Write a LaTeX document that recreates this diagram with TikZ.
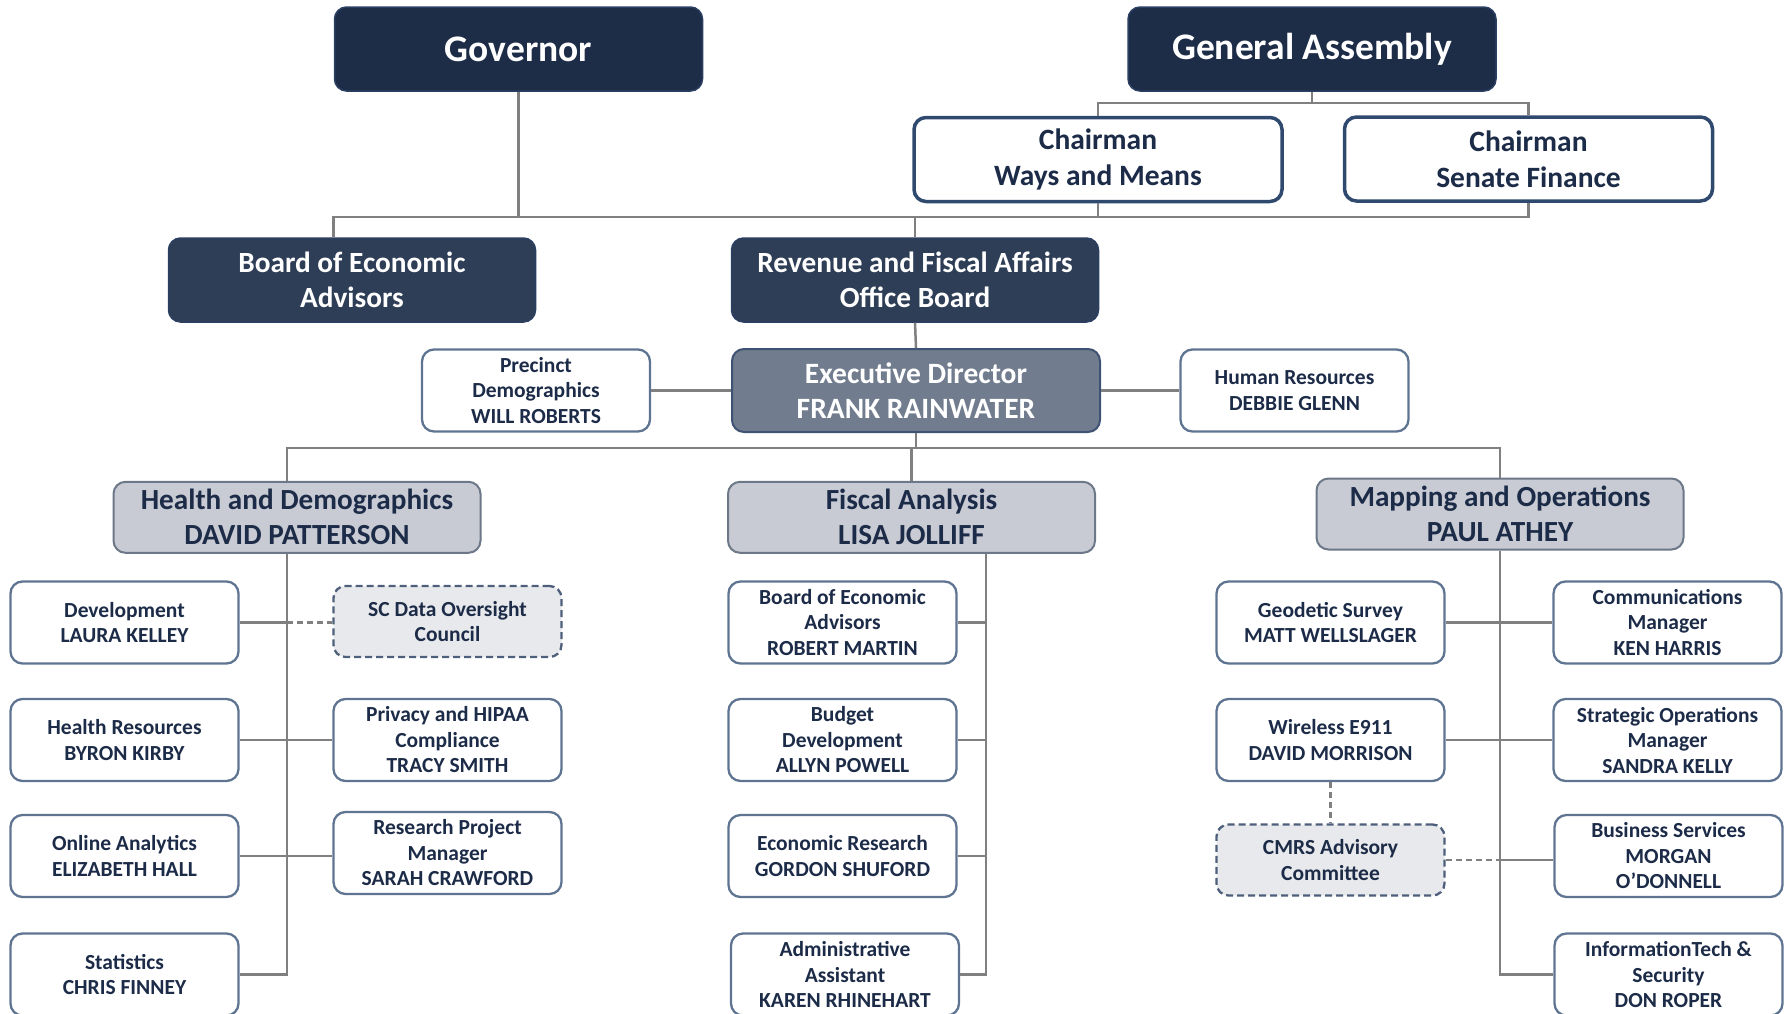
\documentclass[tikz,border=0pt]{standalone}
\usepackage{fontspec}
\setmainfont{Carlito}

\definecolor{topfill}{HTML}{1E2D47}
\definecolor{topedge}{HTML}{2B3F63}
\definecolor{boardfill}{HTML}{2E3E56}
\definecolor{execfill}{HTML}{717D8E}
\definecolor{execedge}{HTML}{3E5273}
\definecolor{headfill}{HTML}{C8CBD3}
\definecolor{headedge}{HTML}{6C7888}
\definecolor{staffedge}{HTML}{5E7491}
\definecolor{chairedge}{HTML}{2F4A6E}
\definecolor{dashfill}{HTML}{E8E9EC}
\definecolor{dashedge}{HTML}{4D5F7B}
\definecolor{inktext}{HTML}{1C2B47}
\definecolor{linegray}{HTML}{808080}

\tikzset{
  topbox/.style={draw=topedge, fill=topfill, line width=1.5pt, rounded corners=12pt, text=white, align=center, font=\fontsize{37.5}{44}\selectfont\bfseries, minimum width=368pt, minimum height=84pt},
  chairbox/.style={draw=chairedge, fill=white, line width=3.5pt, rounded corners=12pt, text=inktext, align=center, font=\fontsize{29.5}{36}\selectfont\bfseries, minimum width=368pt, minimum height=84pt},
  boardbox/.style={draw=topedge, fill=boardfill, line width=1.5pt, rounded corners=12pt, text=white, align=center, font=\fontsize{29.3}{35}\selectfont\bfseries, minimum width=367pt, minimum height=84pt},
  execbox/.style={draw=execedge, fill=execfill, line width=2pt, rounded corners=12pt, text=white, align=center, font=\fontsize{29.5}{35}\selectfont\bfseries, minimum width=368pt, minimum height=83pt},
  headbox/.style={draw=headedge, fill=headfill, line width=2pt, rounded corners=12pt, text=inktext, align=center, font=\fontsize{29.2}{35}\selectfont\bfseries, minimum width=367pt, minimum height=71pt},
  staffbox/.style={draw=staffedge, fill=white, line width=2.3pt, rounded corners=12pt, text=inktext, align=center, font=\fontsize{21.5}{25.5}\selectfont\bfseries, minimum width=228pt, minimum height=82pt},
  dashbox/.style={staffbox, draw=dashedge, fill=dashfill, dash pattern=on 7pt off 4pt, minimum height=71pt},
  conn/.style={draw=linegray, line width=2.5pt},
  dconn/.style={conn, dash pattern=on 6pt off 4pt}
}

\begin{document}
\begin{tikzpicture}[x=1pt, y=-1pt]
\useasboundingbox (0,0) rectangle (1785,1013);
\clip (0,0) rectangle (1785,1013);

\node[topbox] (gov) at (518.5,49) {Governor};
\node[topbox] (ga) at (1312,49) {General Assembly};
\node[chairbox] (wm) at (1098,159.5) {Chairman\\Ways and Means};
\node[chairbox] (sf) at (1528.5,159) {Chairman\\Senate Finance};
\node[boardbox] (bea) at (352,280) {Board of Economic\\Advisors};
\node[boardbox] (rfa) at (915,280) {Revenue and Fiscal Affairs\\Office Board};
\node[staffbox] (pd) at (536,390.5) {Precinct\\Demographics\\WILL ROBERTS};
\node[execbox] (ed) at (916,390.5) {Executive Director\\FRANK RAINWATER};
\node[staffbox] (hr) at (1294.5,390.5) {Human Resources\\DEBBIE GLENN};

\node[headbox] (hd) at (297,517.3) {Health and Demographics\\DAVID PATTERSON};
\node[headbox] (fa) at (911.5,517.3) {Fiscal Analysis\\LISA JOLLIFF};
\node[headbox] (mo) at (1500,514) {Mapping and Operations\\PAUL ATHEY};

\node[staffbox] (dev) at (124.5,622.5) {Development\\LAURA KELLEY};
\node[staffbox] (hres) at (124.5,740) {Health Resources\\BYRON KIRBY};
\node[staffbox] (oa) at (124.5,856) {Online Analytics\\ELIZABETH HALL};
\node[staffbox] (stat) at (124.5,974.5) {Statistics\\CHRIS FINNEY};
\node[dashbox] (scd) at (447.5,621.5) {SC Data Oversight\\Council};
\node[staffbox] (hipaa) at (447.5,740) {Privacy and HIPAA\\Compliance\\TRACY SMITH};
\node[staffbox] (rpm) at (447.5,853) {Research Project\\Manager\\SARAH CRAWFORD};

\node[staffbox] (bea2) at (842.5,622.5) {Board of Economic\\Advisors\\ROBERT MARTIN};
\node[staffbox] (bd) at (842.5,740) {Budget\\Development\\ALLYN POWELL};
\node[staffbox] (er) at (842.5,856) {Economic Research\\GORDON SHUFORD};
\node[staffbox] (aa) at (845,974.5) {Administrative\\Assistant\\KAREN RHINEHART};

\node[staffbox] (gs) at (1330.5,622.5) {Geodetic Survey\\MATT WELLSLAGER};
\node[staffbox] (we) at (1330.5,740) {Wireless E911\\DAVID MORRISON};
\node[dashbox] (cmrs) at (1330.5,860) {CMRS Advisory\\Committee};
\node[staffbox] (cm) at (1667.5,622.5) {Communications\\Manager\\KEN HARRIS};
\node[staffbox] (som) at (1667.5,740) {Strategic Operations\\Manager\\SANDRA KELLY};
\node[staffbox] (bs) at (1668.5,856) {Business Services\\MORGAN\\O’DONNELL};
\node[staffbox] (it) at (1668.5,974.5) {InformationTech \&\\Security\\DON ROPER};

\coordinate (gabus) at (0,103);
\coordinate (govbus) at (0,217);
\coordinate (deptbus) at (0,448);
\coordinate (hdtrunk) at (287,0);
\coordinate (fatrunk) at (986,0);

\draw[conn] (ga.south) -- (ga.south |- gabus);
\draw[conn] (wm.north) |- (sf.north |- gabus) -- (sf.north);
\draw[conn] (gov.south) -- (gov.south |- govbus);
\draw[conn] (bea.north -| 333.5,0) |- (sf.south |- govbus) -- (sf.south);
\draw[conn] (wm.south) -- (wm.south |- govbus);
\draw[conn] (rfa.north) -- (rfa.north |- govbus);
\draw[conn] (rfa.south) -- (ed.north);
\draw[conn] (pd.east) -- (ed.west);
\draw[conn] (ed.east) -- (hr.west);

\draw[conn] (ed.south) -- (ed.south |- deptbus);
\draw[conn] (hd.north -| hdtrunk) |- (mo.north |- deptbus) -- (mo.north);
\draw[conn] (fa.north) -- (fa.north |- deptbus);

\draw[conn] (hd.south -| hdtrunk) |- (stat.east);
\draw[conn] (dev.east) -- (dev.east -| hdtrunk);
\draw[dconn] (dev.east -| hdtrunk) -- (scd.west |- dev.east);
\draw[conn] (hres.east) -- (hipaa.west);
\draw[conn] (oa.east) -- (rpm.west |- oa.east);

\draw[conn] (fa.south -| fatrunk) |- (aa.east);
\draw[conn] (bea2.east) -- (bea2.east -| fatrunk);
\draw[conn] (bd.east) -- (bd.east -| fatrunk);
\draw[conn] (er.east) -- (er.east -| fatrunk);

\draw[conn] (mo.south) |- (it.west);
\draw[conn] (gs.east) -- (cm.west);
\draw[conn] (we.east) -- (som.west);
\draw[dconn] (we.south) -- (cmrs.north);
\draw[dconn] (cmrs.east) -- (cmrs.east -| mo.south);
\draw[conn] (cmrs.east -| mo.south) -- (bs.west |- cmrs.east);
\end{tikzpicture}
\end{document}
